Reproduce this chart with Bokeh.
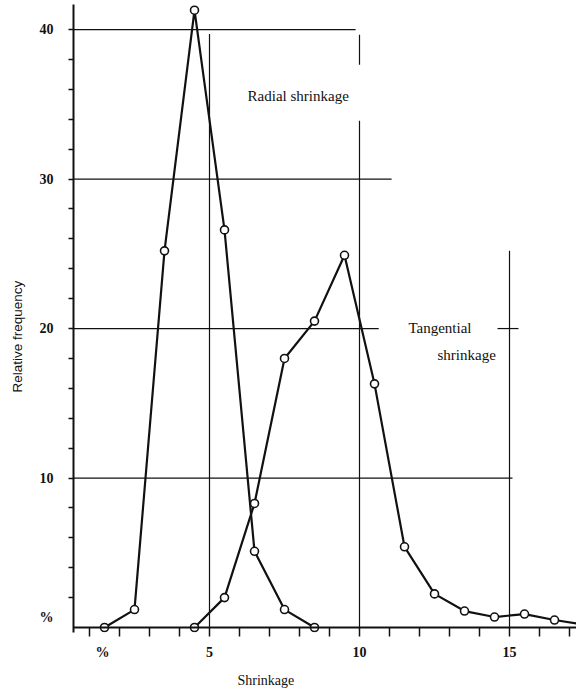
from bokeh.plotting import figure
from bokeh.models import FixedTicker, Span, Label, Range1d, Title
from bokeh.embed import file_html
from bokeh.resources import INLINE

# ---- data ----
radial_x = [1.5, 2.5, 3.5, 4.5, 5.5, 6.5, 7.5, 8.5]
radial_y = [0.0, 1.2, 25.2, 41.3, 26.6, 5.1, 1.2, 0.0]

tang_x = [4.5, 5.5, 6.5, 7.5, 8.5, 9.5, 10.5, 11.5, 12.5, 13.5, 14.5, 15.5, 16.5, 17.5]
tang_y = [0.0, 2.0, 8.3, 18.0, 20.5, 24.9, 16.3, 5.4, 2.25, 1.1, 0.7, 0.9, 0.5, 0.18]

y_label_ticks = [0.67, 10, 20, 30, 40]
y_labels = {0.67: "%"}
y_minor = list(range(2, 41, 2))
x_label_ticks = [1.43, 5, 10, 15]
x_labels = {1.43: "%"}
x_minor = list(range(1, 18))

# ---- ranges ----
X0, X1 = 0.4667, 17.233
Y0, Y1 = -0.334, 41.68

# partial reference lines of the original drawing: (y, x_from, x_to) and (x, y_from, y_to)
h_lines = [(40, X0, 9.87), (30, X0, 11.07), (20, X0, 10.64), (20, 14.6, 15.3), (10, X0, 15.1)]
v_lines = [(5, 0, 39.7), (10, 0, 33.9), (10, 37.65, 39.66), (15, 0, 25.2)]

p = figure(width=576, height=695, output_backend="svg", toolbar_location=None,
           x_range=Range1d(X0, X1), y_range=Range1d(Y0, Y1),
           min_border_left=73, min_border_right=0, min_border_top=4, min_border_bottom=62)
p.outline_line_color = None
p.grid.visible = False
p.background_fill_color = "white"

ink = "#111111"
serif = "Liberation Serif"

# reference lines
p.segment(x0=[h[1] for h in h_lines], x1=[h[2] for h in h_lines],
          y0=[h[0] for h in h_lines], y1=[h[0] for h in h_lines],
          line_color=ink, line_width=1.2)
p.segment(x0=[v[0] for v in v_lines], x1=[v[0] for v in v_lines],
          y0=[v[1] for v in v_lines], y1=[v[2] for v in v_lines],
          line_color=ink, line_width=1.2)

# x axis baseline at y = 0
p.add_layout(Span(location=0, dimension="width", line_color=ink, line_width=2))

# data curves
for xs, ys in ((radial_x, radial_y), (tang_x, tang_y)):
    p.line(xs, ys, line_color=ink, line_width=2.2)
    p.scatter(xs, ys, size=8, fill_color="white", line_color=ink, line_width=1.6)

# axes
xa = p.xaxis[0]
xa.ticker = FixedTicker(ticks=x_label_ticks, minor_ticks=x_minor)
xa.major_label_overrides = x_labels
xa.axis_line_color = None
xa.major_tick_line_color = None
xa.major_tick_in = 0
xa.major_tick_out = 4
xa.minor_tick_in = 5
xa.minor_tick_out = 4
xa.minor_tick_line_color = ink
xa.minor_tick_line_width = 1.5
xa.major_label_standoff = 8
xa.major_label_text_font = serif
xa.major_label_text_font_style = "bold"
xa.major_label_text_font_size = "14px"
xa.major_label_text_color = ink

ya = p.yaxis[0]
ya.ticker = FixedTicker(ticks=y_label_ticks, minor_ticks=y_minor)
ya.major_label_overrides = y_labels
ya.axis_line_color = ink
ya.axis_line_width = 2
ya.major_tick_line_color = None
ya.major_tick_in = 0
ya.major_tick_out = 12
ya.minor_tick_in = 0
ya.minor_tick_out = 5
ya.minor_tick_line_color = ink
ya.minor_tick_line_width = 1.3
ya.major_label_standoff = 8
ya.major_label_text_font = serif
ya.major_label_text_font_style = "bold"
ya.major_label_text_font_size = "14px"
ya.major_label_text_color = ink

# axis titles placed like the original
p.add_layout(Title(text="Shrinkage", align="left", offset=164, standoff=16,
                   text_font=serif, text_font_size="14px", text_font_style="normal",
                   text_color=ink), "below")
p.add_layout(Title(text="Relative frequency", align="left", offset=240, standoff=19,
                   vertical_align="top",
                   text_font="Liberation Sans", text_font_size="13.5px",
                   text_font_style="normal", text_color=ink), "left")

def lab(x, y, text, size="15px", align="left"):
    p.add_layout(Label(x=x, y=y, text=text, text_font=serif, text_font_size=size,
                       text_align=align, text_baseline="middle", text_color=ink))

lab(6.27, 35.57, "Radial shrinkage")
lab(11.63, 20.07, "Tangential")
lab(12.6, 18.26, "shrinkage")

open("out.html", "w").write(file_html(p, INLINE))
